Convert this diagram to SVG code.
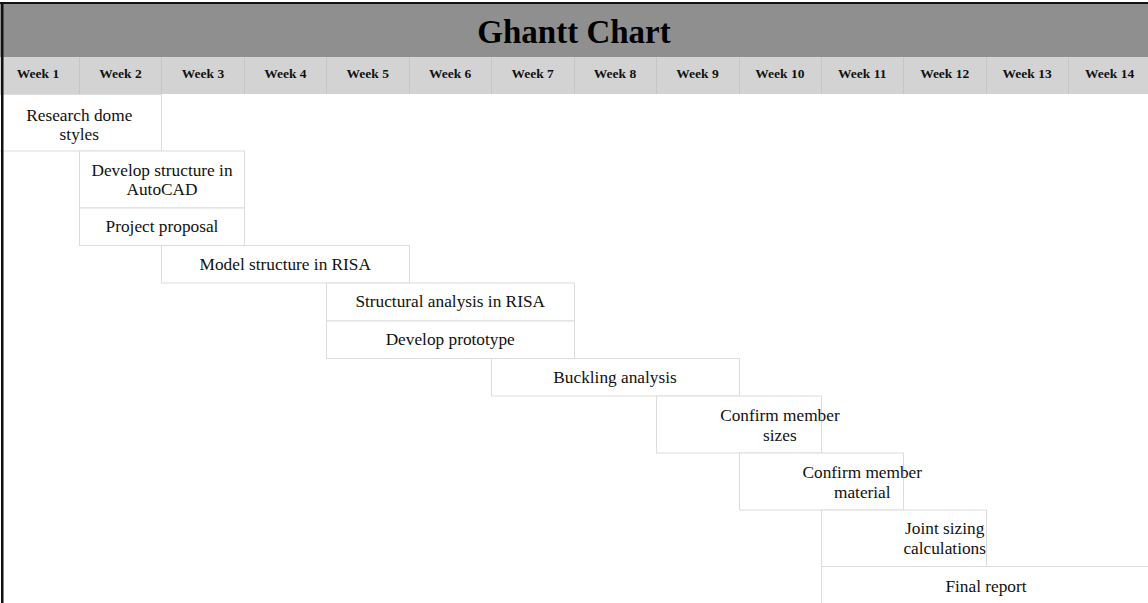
<svg xmlns="http://www.w3.org/2000/svg" width="1148" height="603" viewBox="0 0 1148 603">
<style>
.title{font-family:"Liberation Serif","Times New Roman",serif;font-weight:bold;font-size:33px;fill:#000;text-anchor:middle}
.wk{font-family:"Liberation Serif","Times New Roman",serif;font-weight:bold;font-size:13.5px;fill:#111;text-anchor:middle}
.task rect{fill:#fff;stroke:#dcdcdc;stroke-width:1}
.task text{font-family:"Liberation Serif","Times New Roman",serif;font-size:17.3px;fill:#111;text-anchor:middle}
.sep{stroke:#c6c6c6;stroke-width:1}
</style>
<rect x="0" y="0" width="1148" height="603" fill="#fff"/>
<g id="header">
<rect x="0" y="3" width="1148" height="54" fill="#8f8f8f"/>
<text class="title" x="574" y="43">Ghantt Chart</text>
<rect x="0" y="57" width="1148" height="37" fill="#d3d3d3"/>
<line class="sep" x1="79.5" y1="57" x2="79.5" y2="94"/>
<line class="sep" x1="161.5" y1="57" x2="161.5" y2="94"/>
<line class="sep" x1="244.5" y1="57" x2="244.5" y2="94"/>
<line class="sep" x1="326.5" y1="57" x2="326.5" y2="94"/>
<line class="sep" x1="409.5" y1="57" x2="409.5" y2="94"/>
<line class="sep" x1="491.5" y1="57" x2="491.5" y2="94"/>
<line class="sep" x1="574.5" y1="57" x2="574.5" y2="94"/>
<line class="sep" x1="656.5" y1="57" x2="656.5" y2="94"/>
<line class="sep" x1="739.5" y1="57" x2="739.5" y2="94"/>
<line class="sep" x1="821.5" y1="57" x2="821.5" y2="94"/>
<line class="sep" x1="903.5" y1="57" x2="903.5" y2="94"/>
<line class="sep" x1="986.5" y1="57" x2="986.5" y2="94"/>
<line class="sep" x1="1068.5" y1="57" x2="1068.5" y2="94"/>
<text class="wk" x="38" y="78">Week 1</text>
<text class="wk" x="120.5" y="78">Week 2</text>
<text class="wk" x="203" y="78">Week 3</text>
<text class="wk" x="285.4" y="78">Week 4</text>
<text class="wk" x="367.8" y="78">Week 5</text>
<text class="wk" x="450.2" y="78">Week 6</text>
<text class="wk" x="532.6" y="78">Week 7</text>
<text class="wk" x="615" y="78">Week 8</text>
<text class="wk" x="697.5" y="78">Week 9</text>
<text class="wk" x="779.9" y="78">Week 10</text>
<text class="wk" x="862.3" y="78">Week 11</text>
<text class="wk" x="944.7" y="78">Week 12</text>
<text class="wk" x="1027.1" y="78">Week 13</text>
<text class="wk" x="1109.6" y="78">Week 14</text>
</g>
<g id="task-research" class="task">
<rect x="-3.5" y="94.5" width="165" height="56.5"/>
<text x="79.3" y="121">Research dome</text>
<text x="79.3" y="140">styles</text>
</g>
<g id="task-autocad" class="task">
<rect x="79.5" y="151" width="165" height="57"/>
<text x="162" y="175.5">Develop structure in</text>
<text x="162" y="195">AutoCAD</text>
</g>
<g id="task-proposal" class="task">
<rect x="79.5" y="208" width="165" height="37.5"/>
<text x="162" y="232">Project proposal</text>
</g>
<g id="task-model" class="task">
<rect x="161.5" y="245.5" width="248" height="37.5"/>
<text x="285.3" y="269.5">Model structure in RISA</text>
</g>
<g id="task-structural" class="task">
<rect x="326.5" y="283" width="248" height="38"/>
<text x="450.2" y="307">Structural analysis in RISA</text>
</g>
<g id="task-prototype" class="task">
<rect x="326.5" y="321" width="248" height="37.5"/>
<text x="450.2" y="345">Develop prototype</text>
</g>
<g id="task-buckling" class="task">
<rect x="491.5" y="358.5" width="248" height="37.5"/>
<text x="615" y="382.5">Buckling analysis</text>
</g>
<g id="task-sizes" class="task">
<rect x="656.5" y="396" width="165" height="57"/>
<text x="779.9" y="420.5">Confirm member</text>
<text x="779.9" y="440.5">sizes</text>
</g>
<g id="task-material" class="task">
<rect x="739.5" y="453" width="164" height="57"/>
<text x="862.3" y="477.5">Confirm member</text>
<text x="862.3" y="497.5">material</text>
</g>
<g id="task-joint" class="task">
<rect x="821.5" y="510" width="165" height="56.5"/>
<text x="944.7" y="534">Joint sizing</text>
<text x="944.7" y="554">calculations</text>
</g>
<g id="task-final" class="task">
<rect x="821.5" y="566.5" width="330" height="40"/>
<text x="986" y="592">Final report</text>
</g>
<g id="connectors"></g>
<g id="frame">
<rect x="0" y="2" width="1148" height="2" fill="#111"/>
<rect x="1" y="2" width="2.5" height="601" fill="#111"/>
</g>
</svg>
